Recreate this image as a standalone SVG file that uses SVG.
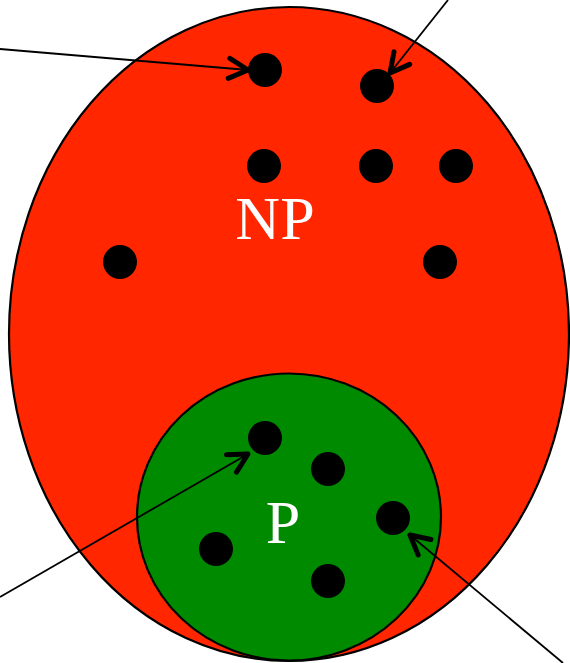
<svg xmlns="http://www.w3.org/2000/svg" width="570" height="663" viewBox="0 0 570 663">
<style>
.dot{fill:#000}
.lbl{font-family:"Liberation Serif","Times New Roman",serif;font-size:62px;fill:#fff;text-anchor:middle}
.conn{stroke:#000;stroke-width:1.8;fill:none}
</style>
<defs>
<marker id="chev" markerUnits="userSpaceOnUse" markerWidth="40" markerHeight="40" viewBox="-30 -20 40 40" refX="0" refY="0" orient="auto">
<path d="M-19,-10 L0,0 L-19,10" fill="none" stroke="#000" stroke-width="5" stroke-linecap="round" stroke-linejoin="round"/>
</marker>
</defs>
<g id="NP">
<ellipse cx="289" cy="334" rx="280" ry="327" fill="#ff2600" stroke="#000" stroke-width="2.2"/>
<text class="lbl" x="275" y="239">NP</text>
</g>
<g id="P">
<ellipse cx="289" cy="517" rx="152" ry="143.5" fill="#008a00" stroke="#000" stroke-width="2.2"/>
<text class="lbl" x="283" y="543">P</text>
</g>
<g id="np-dots">
<circle class="dot" cx="265" cy="70" r="17"/>
<circle class="dot" cx="377" cy="86" r="17"/>
<circle class="dot" cx="264" cy="166" r="17"/>
<circle class="dot" cx="376" cy="166" r="17"/>
<circle class="dot" cx="456" cy="166" r="17"/>
<circle class="dot" cx="120" cy="262" r="17"/>
<circle class="dot" cx="440" cy="262" r="17"/>
</g>
<g id="p-dots">
<circle class="dot" cx="265" cy="438" r="17"/>
<circle class="dot" cx="328" cy="469" r="17"/>
<circle class="dot" cx="393" cy="518" r="17"/>
<circle class="dot" cx="216" cy="549" r="17"/>
<circle class="dot" cx="328" cy="581" r="17"/>
</g>
<g id="connectors">
<path class="conn" d="M0,49 L248,70" marker-end="url(#chev)"/>
<path class="conn" d="M448,0 L390,73" marker-end="url(#chev)"/>
<path class="conn" d="M0,597 L248,454" marker-end="url(#chev)"/>
<path class="conn" d="M563,663 L410,535" marker-end="url(#chev)"/>
</g>
</svg>
